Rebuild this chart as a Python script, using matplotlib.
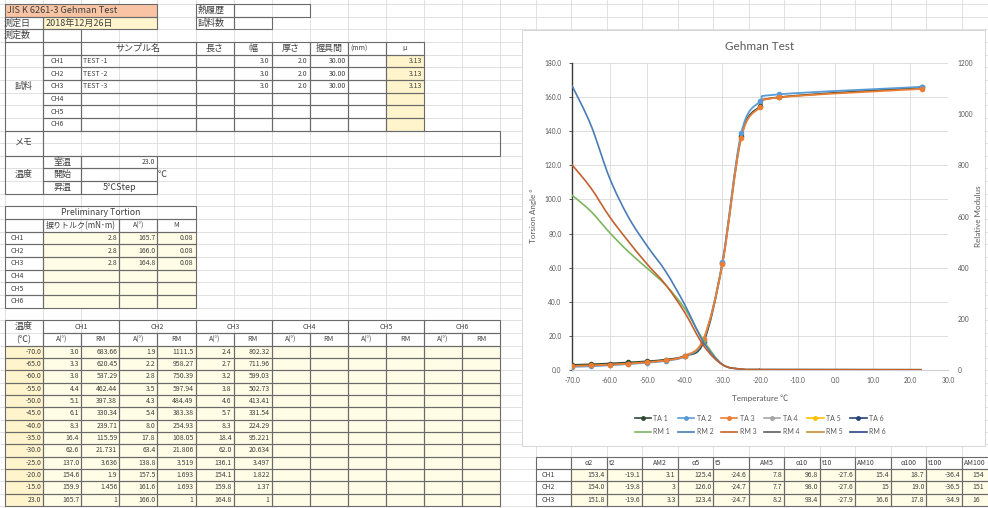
import numpy as np
import matplotlib
matplotlib.use("Agg")
import matplotlib.pyplot as plt
from matplotlib.path import Path
from matplotlib.patches import PathPatch, Rectangle
from matplotlib.lines import Line2D
from matplotlib.ticker import FormatStrFormatter

plt.rcParams['axes.unicode_minus'] = False

# ---------------- data ----------------
temps = [-70.0, -65.0, -60.0, -55.0, -50.0, -45.0, -40.0, -35.0, -30.0, -25.0, -20.0, -15.0, 23.0]
ta1 = [3.0, 3.3, 3.8, 4.4, 5.1, 6.1, 8.3, 16.4, 62.6, 137.0, 154.6, 159.9, 165.7]
rm1 = [683.66, 620.45, 537.29, 462.44, 397.38, 330.34, 239.71, 115.59, 21.731, 3.636, 1.900, 1.456, 1]
ta2 = [1.9, 2.2, 2.8, 3.5, 4.3, 5.4, 8.0, 17.8, 63.4, 138.8, 157.5, 161.6, 166.0]
rm2 = [1111.5, 958.27, 750.39, 597.94, 484.49, 383.38, 254.93, 108.05, 21.806, 3.519, 1.693, 1.693, 1]
ta3 = [2.4, 2.7, 3.2, 3.8, 4.6, 5.7, 8.3, 18.4, 62.0, 136.1, 154.1, 159.8, 164.8]
rm3 = [802.32, 711.96, 599.03, 502.73, 413.41, 331.54, 224.29, 95.221, 20.634, 3.497, 1.822, 1.37, 1]

channels = ['CH1', 'CH2', 'CH3', 'CH4', 'CH5', 'CH6']
sample_names = ['TEST -1', 'TEST -2', 'TEST -3']
sample_width = [3.0, 3.0, 3.0]
sample_thick = [2.0, 2.0, 2.0]
grip_dist = [30.00, 30.00, 30.00]
mu_values = [3.13, 3.13, 3.13]
room_temp = 23.0
test_date = '2018年12月26日'

pre_torque = [2.8, 2.8, 2.8]
pre_angle = [165.7, 166.0, 164.8]
pre_m = [0.08, 0.08, 0.08]

summary_headers = ['α2', 't2', 'AM2', 'α5', 't5', 'AM5', 'α10', 't10', 'AM10', 'α100', 't100', 'AM100']
summary_ch1 = [153.4, -19.1, 3.1, 125.4, -24.6, 7.8, 96.8, -27.6, 15.4, 18.7, -36.4, 154]
summary_ch2 = [154.0, -19.8, 3, 126.0, -24.7, 7.7, 98.0, -27.6, 15, 19.0, -36.5, 151]
summary_ch3 = [151.8, -19.6, 3.3, 123.4, -24.7, 8.2, 93.4, -27.9, 16.6, 17.8, -34.9, 16]

ta_labels = ['TA 1', 'TA 2', 'TA 3', 'TA 4', 'TA 5', 'TA 6']
rm_labels = ['RM 1', 'RM 2', 'RM 3', 'RM 4', 'RM 5', 'RM 6']
ta_colors = ['#2F4B33', '#5B9BD5', '#ED7D31', '#A5A5A5', '#FFC000', '#264478']
rm_colors = ['#7DB560', '#4A7CB8', '#C4602F', '#5E5E5E', '#C09030', '#2E4680']

# ---------------- figure / sheet ----------------
fig = plt.figure(figsize=(9.88, 5.08), dpi=100)
sh = fig.add_axes([0, 0, 1, 1])
sh.set_xlim(0, 988)
sh.set_ylim(508, 0)
sh.axis('off')

JP = ['Noto Sans CJK JP', 'DejaVu Sans']
TXT = '#404040'
BORDER = '#6A6A6A'
GRID = '#DCDCDC'
CREAM = '#FFFDE6'
YEL = '#FFF4CC'


def cl(c):
    return 5 + 38.1 * c if c <= 13 else 500.3 + 35.5 * (c - 13)


def rt(r):
    return 4 + 12.65 * min(r, 27) + 12.33 * max(r - 27, 0)


# excel gridlines
for c in range(0, 28):
    sh.plot([cl(c), cl(c)], [0, 508], color=GRID, lw=0.6, zorder=1)
for r in range(0, 42):
    sh.plot([0, 988], [rt(r), rt(r)], color=GRID, lw=0.6, zorder=1)


def fill(c0, c1, r0, r1, color):
    sh.add_patch(Rectangle((cl(c0), rt(r0)), cl(c1 + 1) - cl(c0), rt(r1 + 1) - rt(r0),
                           facecolor=color, edgecolor='none', zorder=2))


def box(c0, c1, r0, r1, lw=0.8):
    sh.add_patch(Rectangle((cl(c0), rt(r0)), cl(c1 + 1) - cl(c0), rt(r1 + 1) - rt(r0),
                           facecolor='none', edgecolor=BORDER, lw=lw, zorder=3))


def txt(c0, c1, r0, r1, s, ha='center', size=None, dx=0):
    if size is None:
        size = 6.5 if any(ord(ch) > 0x2000 and ch not in '･' for ch in s) else 5.0
    y = (rt(r0) + rt(r1 + 1)) / 2
    if ha == 'center':
        x = (cl(c0) + cl(c1 + 1)) / 2
    elif ha == 'left':
        x = cl(c0) + 2 + dx
    else:
        x = cl(c1 + 1) - 2
    sh.text(x, y, s, ha=ha, va='center', fontsize=size, color=TXT, family=JP, zorder=4)


def fmt1(v):
    return f"{v:.1f}"


def fmtg(v):
    return f"{v:.5g}"


# header rows
fill(0, 3, 0, 0, '#F8C4A4')
box(0, 3, 0, 0)
txt(0, 3, 0, 0, 'JIS K 6261-3 Gehman Test', ha='left', size=6.6)
box(5, 5, 0, 0); txt(5, 5, 0, 0, '熱履歴', ha='left')
box(6, 7, 0, 0)
box(0, 0, 1, 1); txt(0, 0, 1, 1, '測定日', ha='left', dx=-3)
fill(1, 3, 1, 1, YEL); box(1, 3, 1, 1); txt(1, 3, 1, 1, test_date, ha='left')
box(5, 5, 1, 1); txt(5, 5, 1, 1, '試料数', ha='left')
box(6, 6, 1, 1)
box(0, 0, 2, 2); txt(0, 0, 2, 2, '測定数', ha='left', dx=-3)
box(1, 1, 2, 2)

# sample table
box(0, 0, 3, 9); txt(0, 0, 3, 9, '試料')
hdr = {5: '長さ', 6: '幅', 7: '厚さ', 8: '握具間', 10: 'μ'}
box(1, 1, 3, 3)
box(2, 4, 3, 3); txt(2, 4, 3, 3, 'サンプル名')
for c in range(5, 11):
    box(c, c, 3, 3)
    if c in hdr:
        txt(c, c, 3, 3, hdr[c])
txt(9, 9, 3, 3, '(mm)', ha='left')
for i, ch in enumerate(channels):
    r = 4 + i
    fill(10, 10, r, r, YEL)
    box(1, 1, r, r); txt(1, 1, r, r, ch, ha='left', dx=6)
    box(2, 4, r, r)
    for c in range(5, 11):
        box(c, c, r, r)
    if i < len(sample_names):
        txt(2, 4, r, r, sample_names[i], ha='left')
        txt(6, 6, r, r, fmt1(sample_width[i]), ha='right')
        txt(7, 7, r, r, fmt1(sample_thick[i]), ha='right')
        txt(8, 8, r, r, f"{grip_dist[i]:.2f}", ha='right')
        txt(10, 10, r, r, f"{mu_values[i]:.2f}", ha='right')

# memo
box(0, 0, 10, 11); txt(0, 0, 10, 11, 'メモ')
box(1, 12, 10, 11)

# temperature settings
box(0, 0, 12, 14); txt(0, 0, 12, 14, '温度')
for k, lab in enumerate(['室温', '開始', '昇温']):
    box(1, 1, 12 + k, 12 + k); txt(1, 1, 12 + k, 12 + k, lab)
    box(2, 3, 12 + k, 12 + k)
txt(2, 3, 12, 12, fmt1(room_temp), ha='right')
txt(2, 3, 14, 14, '5℃Step')
txt(4, 4, 13, 13, '℃', ha='left', dx=-2)

# preliminary torsion
box(0, 4, 16, 16); txt(0, 4, 16, 16, 'Preliminary Tortion', size=6.3)
box(0, 0, 17, 17)
box(1, 2, 17, 17); txt(1, 2, 17, 17, '捩りトルク(mN･m)', size=5.8)
box(3, 3, 17, 17); txt(3, 3, 17, 17, 'A(°)')
box(4, 4, 17, 17); txt(4, 4, 17, 17, 'M')
for i, ch in enumerate(channels):
    r = 18 + i
    fill(1, 4, r, r, CREAM)
    box(0, 0, r, r); txt(0, 0, r, r, ch, ha='left', dx=4)
    box(1, 2, r, r); box(3, 3, r, r); box(4, 4, r, r)
    if i < len(pre_torque):
        txt(1, 2, r, r, fmt1(pre_torque[i]), ha='right')
        txt(3, 3, r, r, fmt1(pre_angle[i]), ha='right')
        txt(4, 4, r, r, f"{pre_m[i]:.2f}", ha='right')

# measurement table
box(0, 0, 25, 26)
txt(0, 0, 25, 25, '温度'); txt(0, 0, 26, 26, '(℃)')
for k, ch in enumerate(channels):
    c = 1 + 2 * k
    box(c, c + 1, 25, 25); txt(c, c + 1, 25, 25, ch)
    box(c, c, 26, 26); txt(c, c, 26, 26, 'A(°)')
    box(c + 1, c + 1, 26, 26); txt(c + 1, c + 1, 26, 26, 'RM')
fill(0, 0, 27, 39, YEL)
fill(1, 12, 27, 39, CREAM)
ta_all = [ta1, ta2, ta3]
rm_all = [rm1, rm2, rm3]
for j, t in enumerate(temps):
    r = 27 + j
    box(0, 0, r, r); txt(0, 0, r, r, fmt1(t), ha='right')
    for c in range(1, 13):
        box(c, c, r, r)
    for k in range(3):
        c = 1 + 2 * k
        txt(c, c, r, r, fmt1(ta_all[k][j]), ha='right')
        txt(c + 1, c + 1, r, r, fmtg(rm_all[k][j]), ha='right')

# summary table (bottom right)
fill(15, 26, 37, 39, CREAM)
for c in range(14, 27):
    for r in range(36, 40):
        box(c, c, r, r)
for n, h in enumerate(summary_headers):
    c = 15 + n
    if h.startswith('t') or h == 'AM100' or h == 'AM10':
        txt(c, c, 36, 36, h, ha='left')
    else:
        txt(c, c, 36, 36, h)
for k, row in enumerate([summary_ch1, summary_ch2, summary_ch3]):
    r = 37 + k
    txt(14, 14, r, r, channels[k], ha='left', dx=4)
    for n, v in enumerate(row):
        c = 15 + n
        h = summary_headers[n]
        s = f"{v:g}" if h.startswith('AM') else fmt1(v)
        if n == len(row) - 1:
            txt(c, c, r, r, s, ha='left', dx=9)
        else:
            txt(c, c, r, r, s, ha='right')

# chart area background
sh.add_patch(Rectangle((522, 30), 463, 416, facecolor='white', edgecolor='#D0D0D0',
                       lw=0.6, zorder=5))

# ---------------- chart ----------------
CF = ['Lato', 'Noto Sans CJK JP', 'DejaVu Sans']
GRAY = '#595959'
L, R, T, B = 572, 948, 63, 370
ax = fig.add_axes([L / 988, 1 - B / 508, (R - L) / 988, (B - T) / 508])
ax.set_facecolor('none')
ax.set_xlim(-70, 30)
ax.set_ylim(0, 180)
ax.set_xticks(np.arange(-70, 31, 10))
ax.set_yticks(np.arange(0, 181, 20))
ax.xaxis.set_major_formatter(FormatStrFormatter('%.1f'))
ax.yaxis.set_major_formatter(FormatStrFormatter('%.1f'))
ax.grid(True, color='#D9D9D9', lw=0.6)
ax.set_axisbelow(True)
for s in ['top', 'right']:
    ax.spines[s].set_visible(False)
ax.spines['left'].set_color('#3A3A3A')
ax.spines['left'].set_linewidth(1.0)
ax.spines['bottom'].set_color('#D0D0D0')
ax.tick_params(axis='x', length=0, pad=5, labelsize=4.8, labelcolor=GRAY)
ax.tick_params(axis='y', length=2.5, width=0.6, color='#3A3A3A', pad=5, labelsize=4.8, labelcolor=GRAY)
for lab in ax.get_xticklabels() + ax.get_yticklabels():
    lab.set_family(CF)

ax2 = ax.twinx()
ax2.set_ylim(0, 1200)
ax2.set_yticks(np.arange(0, 1201, 200))
ax2.yaxis.set_major_formatter(FormatStrFormatter('%d'))
for s in ax2.spines.values():
    s.set_visible(False)
ax2.tick_params(axis='y', length=0, pad=7, labelsize=4.8, labelcolor=GRAY)
for lab in ax2.get_yticklabels():
    lab.set_family(CF)


def smooth_path(x, y):
    pts = np.column_stack([np.asarray(x, float), np.asarray(y, float)])
    n = len(pts)
    verts = [pts[0]]
    codes = [Path.MOVETO]
    for i in range(n - 1):
        p0 = pts[i - 1] if i > 0 else pts[i]
        p1 = pts[i]
        p2 = pts[i + 1]
        p3 = pts[i + 2] if i + 2 < n else pts[i + 1]
        verts += [p1 + (p2 - p0) / 6.0, p2 - (p3 - p1) / 6.0, p2]
        codes += [Path.CURVE4] * 3
    return Path(verts, codes)


for k in range(3):
    ax.add_patch(PathPatch(smooth_path(temps, ta_all[k]), fill=False,
                           edgecolor=ta_colors[k], lw=1.3, zorder=3))
    ax.plot(temps, ta_all[k], linestyle='none', marker='o', ms=3.0,
            color=ta_colors[k], mec=ta_colors[k], zorder=4)
for k in range(3):
    ax2.add_patch(PathPatch(smooth_path(temps, rm_all[k]), fill=False,
                            edgecolor=rm_colors[k], lw=1.2, zorder=3))

# axis titles and chart title
sh.text(760, 46, 'Gehman Test', ha='center', va='center', fontsize=8.5, color=GRAY, family=CF, zorder=6)
sh.text(760, 398, 'Temperature ℃', ha='center', va='center', fontsize=5.8, color=GRAY, family=CF, zorder=6)
sh.text(533, 216, 'Torsion Angle °', ha='center', va='center', rotation=90, fontsize=5.8, color=GRAY, family=CF, zorder=6)
sh.text(978, 216, 'Relative Modulus', ha='center', va='center', rotation=90, fontsize=5.8, color=GRAY, family=CF, zorder=6)

# legend
handles, labels = [], []
for k in range(6):
    handles.append(Line2D([], [], color=ta_colors[k], lw=1.2, marker='o', ms=2.5))
    labels.append(ta_labels[k])
    handles.append(Line2D([], [], color=rm_colors[k], lw=1.2))
    labels.append(rm_labels[k])
leg = fig.legend(handles, labels, ncol=6, loc='center', bbox_to_anchor=(760 / 988, 1 - 425 / 508),
                 frameon=False, handlelength=2.4, handletextpad=0.3, columnspacing=1.1,
                 labelspacing=1.0, prop={'family': CF, 'size': 5})
for t in leg.get_texts():
    t.set_color(GRAY)

fig.savefig('out.png', dpi=100)
